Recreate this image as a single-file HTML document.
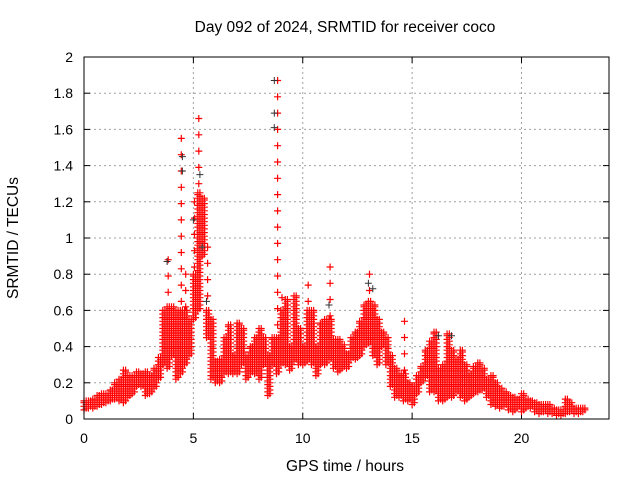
<!DOCTYPE html>
<html><head><meta charset="utf-8">
<style>
body{margin:0;background:#fff;}
svg{display:block;font-family:"Liberation Sans",sans-serif;}
</style></head>
<body>
<svg id="chart" width="640" height="480" viewBox="0 0 640 480">
  <rect width="640" height="480" fill="#fff"/>
  <text x="345" y="32" font-size="15.5" text-anchor="middle" fill="#000">Day 092 of 2024, SRMTID for receiver coco</text>
  <text x="345" y="471" font-size="15.5" text-anchor="middle" fill="#000">GPS time / hours</text>
  <text x="18" y="238" font-size="15.5" text-anchor="middle" fill="#000" transform="rotate(-90 18 238)">SRMTID / TECUs</text>
  <g id="grid"></g>
  <g id="ticks"></g>
  <g id="marks"></g>
  <rect x="84" y="57" width="525" height="362" fill="none" stroke="#000" stroke-width="1"/>
</svg>
<script>
const xTicks=[0,5,10,15,20];
const yTicks=[0,0.2,0.4,0.6,0.8,1,1.2,1.4,1.6,1.8,2];
const yTickLabels=["0","0.2","0.4","0.6","0.8","1","1.2","1.4","1.6","1.8","2"];
const times=[0,0.2,0.4,0.6,0.8,1,1.2,1.4,1.6,1.8,2,2.2,2.4,2.6,2.8,3,3.2,3.4,3.6,3.8,4,4.2,4.4,4.6,4.8,5,5.2,5.4,5.6,5.8,6,6.2,6.4,6.6,6.8,7,7.2,7.4,7.6,7.8,8,8.2,8.4,8.6,8.8,9,9.2,9.4,9.6,9.8,10,10.2,10.4,10.6,10.8,11,11.2,11.4,11.6,11.8,12,12.2,12.4,12.6,12.8,13,13.2,13.4,13.6,13.8,14,14.2,14.4,14.6,14.8,15,15.2,15.4,15.6,15.8,16,16.2,16.4,16.6,16.8,17,17.2,17.4,17.6,17.8,18,18.2,18.4,18.6,18.8,19,19.2,19.4,19.6,19.8,20,20.2,20.4,20.6,20.8,21,21.2,21.4,21.6,21.8,22,22.2,22.4,22.6,22.8];
const lowVals=[.05,.06,.06,.07,.08,.09,.10,.11,.10,.09,.12,.14,.18,.18,.13,.14,.17,.22,.30,.28,.35,.22,.25,.30,.35,.55,.6,.9,.45,.22,.20,.20,.25,.25,.25,.25,.30,.22,.25,.25,.22,.30,.13,.30,.25,.30,.30,.27,.32,.30,.30,.32,.30,.24,.30,.30,.33,.28,.26,.28,.28,.33,.33,.35,.40,.42,.35,.30,.40,.30,.18,.12,.12,.10,.10,.08,.14,.20,.23,.15,.15,.10,.10,.12,.12,.15,.12,.10,.12,.14,.15,.16,.12,.08,.07,.06,.07,.05,.04,.06,.04,.06,.06,.04,.03,.04,.03,.03,.02,.02,.03,.04,.03,.03,.04];
const denseHighVals=[.10,.10,.11,.13,.14,.14,.16,.20,.22,.27,.24,.24,.26,.25,.26,.24,.28,.34,.60,.62,.62,.60,.60,.60,.55,.80,1.25,1.22,.60,.55,.32,.33,.45,.52,.35,.53,.50,.35,.40,.45,.50,.45,.35,.45,.45,.60,.66,.40,.68,.50,.40,.60,.60,.40,.53,.55,.55,.44,.44,.41,.36,.45,.48,.54,.63,.65,.63,.55,.48,.45,.35,.28,.25,.25,.20,.18,.24,.29,.38,.43,.48,.28,.30,.47,.38,.33,.38,.30,.25,.29,.31,.28,.22,.24,.20,.17,.15,.13,.12,.11,.14,.11,.10,.09,.08,.08,.08,.06,.05,.05,.11,.09,.06,.06,.06];
const highVals=[.10,.10,.11,.13,.14,.14,.16,.20,.22,.27,.24,.24,.26,.25,.26,.24,.28,.34,.60,.88,.62,.60,1.55,.80,.55,1.2,1.66,1.22,.95,.55,.32,.33,.45,.52,.35,.53,.50,.35,.40,.45,.50,.45,.35,.45,1.87,.67,.66,.40,.68,.50,.40,.74,.60,.40,.53,.55,.84,.44,.44,.41,.36,.45,.48,.54,.63,.80,.63,.55,.48,.45,.35,.28,.25,.54,.20,.18,.24,.29,.38,.43,.48,.28,.30,.47,.38,.33,.38,.30,.25,.29,.31,.28,.22,.24,.20,.17,.15,.13,.12,.11,.14,.11,.10,.09,.08,.08,.08,.06,.05,.05,.11,.09,.06,.06,.06];
const blackTimes=[3.8,4.5,4.5,5.0,5.3,5.4,5.6,8.7,8.7,8.7,11.2,13.0,13.2,16.2,16.8];
const blackVals=[0.87,1.45,1.37,1.1,1.35,0.95,0.65,1.87,1.69,1.61,0.63,0.75,0.72,0.46,0.46];

const X0=84,PXH=21.875,Y0=419,PXU=181;
const xs=t=>X0+t*PXH, ys=v=>Y0-v*PXU;
const NS="http://www.w3.org/2000/svg";
const grid=document.getElementById('grid'),ticks=document.getElementById('ticks'),marks=document.getElementById('marks');
function el(tag,attrs,parent){const e=document.createElementNS(NS,tag);for(const k in attrs)e.setAttribute(k,attrs[k]);parent.appendChild(e);return e;}
yTicks.forEach((v,i)=>{
  const y=ys(v);
  if(i>0&&i<yTicks.length-1){const g=el('line',{x1:84,x2:609,y1:y,y2:y,stroke:'#a0a0a0','stroke-dasharray':'2,3'},grid);
  
  }
  el('line',{x1:84,x2:90,y1:y,y2:y,stroke:'#000'},ticks);
  el('line',{x1:603,x2:609,y1:y,y2:y,stroke:'#000'},ticks);
  const t=el('text',{x:73,y:y+5,'font-size':14,'text-anchor':'end'},ticks);t.textContent=yTickLabels[i];
  
  
});
xTicks.forEach(v=>{
  const x=xs(v);
  if(v>0){const g=el('line',{x1:x,x2:x,y1:57,y2:419,stroke:'#a0a0a0','stroke-dasharray':'2,3'},grid);
  
  }
  el('line',{x1:x,x2:x,y1:413,y2:419,stroke:'#000'},ticks);
  el('line',{x1:x,x2:x,y1:57,y2:63,stroke:'#000'},ticks);
  const t=el('text',{x:x,y:443,'font-size':14,'text-anchor':'middle'},ticks);t.textContent=String(v);
  
  
});
function plus(x,y){return `M${(x-3.5).toFixed(1)} ${y.toFixed(1)}h7M${x.toFixed(1)} ${(y-3.5).toFixed(1)}v7`;}
let d='';
times.forEach((t,i)=>{
  const lo=lowVals[i],dh=Math.max(lo,denseHighVals[i]),hi=highVals[i];
  const step=0.02;
  [0,0.1].forEach((dt,k)=>{
    for(let v=lo+(k?step/2:0);v<=dh;v+=step){d+=plus(xs(t+dt),ys(v));}
    d+=plus(xs(t+dt),ys(dh));
  });
  if(hi>dh+0.01){
    for(let v=hi;v>dh;v-=0.09){d+=plus(xs(t+0.05),ys(v));}
  }
});
const red=el('path',{d:d,stroke:'#ff0000','stroke-width':1.2,fill:'none'},marks);


let db='';
blackTimes.forEach((t,i)=>{db+=plus(xs(t),ys(blackVals[i]));});
const blk=el('path',{d:db,stroke:'#333','stroke-width':1,fill:'none'},marks);


</script>
</body></html>
